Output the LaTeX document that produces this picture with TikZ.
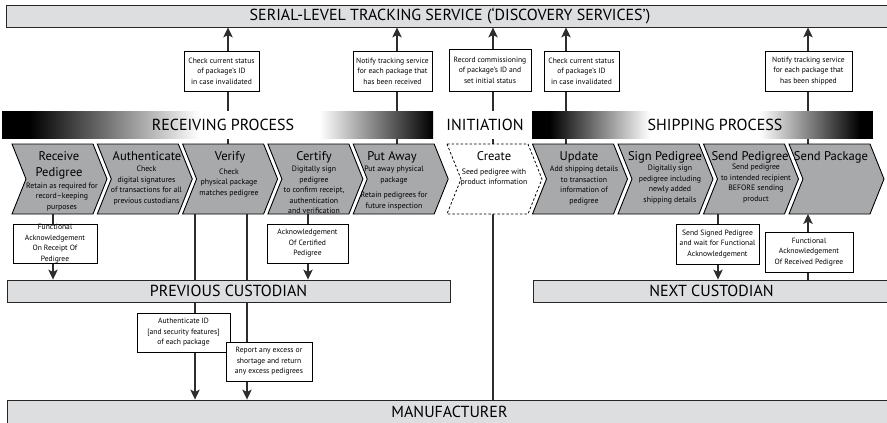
\documentclass[tikz,border=0pt]{standalone}
\usepackage{fontspec}
\setmainfont{PT Sans}
\usetikzlibrary{arrows.meta,backgrounds,calc}
\definecolor{barfill}{RGB}{221,222,224}
\definecolor{chevfill}{RGB}{168,169,171}
\definecolor{linec}{RGB}{45,45,45}
\tikzset{
 bar/.style={draw=black!85, line width=0.9pt, fill=barfill, inner sep=0pt, font=\fontsize{16}{18}\selectfont},
 infobox/.style={draw=black, line width=0.8pt, fill=white, inner sep=0pt, align=center, font=\fontsize{7.6}{10.5}\selectfont},
 conn/.style={draw=linec, line width=1.1pt},
 arr/.style={conn, -{Stealth[length=10pt,width=9.5pt,inset=2.5pt]}},
 chevgray/.style={draw=black, line width=0.9pt, fill=chevfill},
 chevwhite/.style={draw=black, line width=0.8pt, fill=white, dash pattern=on 2.5pt off 2pt},
 ctitle/.style={font=\fontsize{12.6}{15}\selectfont, inner sep=0pt, anchor=base},
 ctext/.style={font=\fontsize{7.8}{10.5}\selectfont, align=center, inner sep=0pt},
 bandtext/.style={font=\fontsize{16}{18}\selectfont, inner sep=0pt},
}
\newcommand\mkchev[3]{%
 \node[minimum width=81pt,minimum height=70pt,inner sep=0pt,outer sep=0pt,anchor=north west] (#1) at (#2,144) {};
 \path[#3] (#1.north west) -- (#1.north east) -- ([xshift=14pt]#1.east) -- (#1.south east) -- (#1.south west) -- ([xshift=14pt]#1.west) -- cycle;
}
\begin{document}
\begin{tikzpicture}[x=1pt,y=-1pt]
\useasboundingbox (0,0) rectangle (887,423);
% ---------- bars
\node[bar, minimum width=887pt, minimum height=22pt] (sls) at (450,16) {SERIAL-LEVEL TRACKING SERVICE (‘DISCOVERY SERVICES’)};
\node[bar, minimum width=443pt, minimum height=22pt] (prev) at (228.5,291) {PREVIOUS CUSTODIAN};
\node[bar, minimum width=357pt, minimum height=22pt] (next) at (711.5,291) {NEXT CUSTODIAN};
\node[bar, minimum width=885pt, minimum height=24pt] (manuf) at (449.5,412) {MANUFACTURER};
% ---------- process bands
\fill[black] (2,111) rectangle (30,138.5);
\shade[left color=black,right color=white] (29.5,111) rectangle (200,138.5);
\fill[white] (199.5,111) rectangle (320,138.5);
\shade[left color=white,right color=black] (319.5,111) rectangle (433,138.5);
\node[bandtext] (recband) at (223,125) {RECEIVING PROCESS};
\node[bandtext, fill=white, minimum width=88pt, minimum height=27.5pt] (init) at (485,124.75) {INITIATION};
\fill[black] (532,111) rectangle (550,138.5);
\shade[left color=black,right color=white] (549.5,111) rectangle (650,138.5);
\fill[white] (649.5,111) rectangle (760,138.5);
\shade[left color=white,right color=black] (759.5,111) rectangle (860,138.5);
\fill[black] (859.5,111) rectangle (873,138.5);
\node[bandtext] (shipband) at (715,125) {SHIPPING PROCESS};
% ---------- chevrons
\mkchev{recv}{12}{chevgray}
\mkchev{auth}{97.3}{chevgray}
\mkchev{verify}{182.6}{chevgray}
\mkchev{certify}{267.9}{chevgray}
\mkchev{putaway}{353.2}{chevgray}
\mkchev{create}{447}{chevwhite}
\mkchev{update}{532.5}{chevgray}
\mkchev{signp}{618}{chevgray}
\mkchev{sendp}{703.5}{chevgray}
\mkchev{sendpkg}{789}{chevgray}
% chevron texts
\node[ctitle] (recv-t1) at (59,160) {Receive};
\node[ctitle] (recv-t2) at (59,176) {Pedigree};
\node[ctext] (recv-s) at (62,197) {Retain as required for\\record–keeping\\purposes};
\node[ctitle] (auth-t) at (147,160) {Authenticate};
\node[ctext] (auth-s) at (146.5,185.5) {Check\\digital signatures\\of transactions for all\\previous custodians};
\node[ctitle] (verify-t) at (230,160) {Verify};
\node[ctext] (verify-s) at (229,183) {Check\\physical package\\matches pedigree};
\node[ctitle] (certify-t) at (314,160) {Certify};
\node[ctext] (certify-s) at (314,190) {Digitally sign\\pedigree\\to confirm receipt,\\authentication\\and verification};
\node[ctitle] (putaway-t) at (392,160) {Put Away};
\node[ctext] (putaway-s) at (394,188) {Put away physical\\package\\[5pt]Retain pedigrees for\\future inspection};
\node[ctitle] (create-t) at (494,160) {Create};
\node[ctext] (create-s) at (494,177.5) {Seed pedigree with\\product information};
\node[ctitle] (update-t) at (579,160) {Update};
\node[ctext] (update-s) at (584,185.5) {Add shipping details\\to transaction\\information of\\pedigree};
\node[ctitle] (signp-t) at (665,160) {Sign Pedigree};
\node[ctext] (signp-s) at (670,184.5) {Digitally sign\\pedigree including\\newly added\\shipping details};
\node[ctitle] (sendp-t) at (750,160) {Send Pedigree};
\node[ctext] (sendp-s) at (756,183.5) {Send pedigree\\to intended recipient\\BEFORE sending\\product};
\node[ctitle] (sendpkg-t) at (831,160) {Send Package};
% ---------- info boxes
\node[infobox, minimum width=75pt, minimum height=40pt] (chkA) at (221.5,71) {Check current status\\of package’s ID\\in case invalidated};
\node[infobox, minimum width=79pt, minimum height=40pt] (notR) at (392.5,71) {Notify tracking service\\for each package that\\has been received};
\node[infobox, minimum width=82pt, minimum height=42pt] (rec) at (490,70) {Record commissioning\\of package’s ID and\\set initial status};
\node[infobox, minimum width=75pt, minimum height=40pt] (chkB) at (581.5,71) {Check current status\\of package’s ID\\in case invalidated};
\node[infobox, minimum width=87pt, minimum height=40pt] (notS) at (808.5,71) {Notify tracking service\\for each package that\\has been shipped};
\node[infobox, minimum width=84pt, minimum height=39pt] (fa1) at (55,243.5) {Functional\\Acknowledgement\\On Receipt Of\\Pedigree};
\node[infobox, minimum width=81pt, minimum height=39pt] (ack) at (307.5,243.5) {Acknowledgement\\Of Certified\\Pedigree};
\node[infobox, minimum width=93pt, minimum height=39pt] (authid) at (183.5,332.5) {Authenticate ID\\{[}and security features{]}\\of each package};
\node[infobox, minimum width=86pt, minimum height=39pt] (report) at (269,361.5) {Report any excess or\\shortage and return\\any excess pedigrees};
\node[infobox, minimum width=83pt, minimum height=40pt] (sendsig) at (717.5,244) {Send Signed Pedigree\\and wait for Functional\\Acknowledgement};
\node[infobox, minimum width=88pt, minimum height=40pt] (far) at (809,252) {Functional\\Acknowledgement\\Of Received Pedigree};
% ---------- connector x positions
\coordinate (xA) at (228,0);
\coordinate (xB) at (397,0);
\coordinate (xC) at (493,0);
\coordinate (xD) at (566,0);
\coordinate (xE) at (808,0);
\coordinate (xF) at (53,0);
\coordinate (xG) at (195,0);
\coordinate (xH) at (247,0);
\coordinate (xI) at (308,0);
\coordinate (xJ) at (718,0);
% ---------- connectors
\begin{pgfonlayer}{background}
\draw[conn] (verify.north -| xA) -- (chkA.south -| xA);
\draw[arr] (chkA.north -| xA) -- (sls.south -| xA);
\draw[conn] (putaway.north -| xB) -- (notR.south -| xB);
\draw[arr] (notR.north -| xB) -- (sls.south -| xB);
\draw[conn] (manuf.north -| xC) -- (rec.south -| xC);
\draw[arr] (rec.north -| xC) -- (sls.south -| xC);
\draw[conn] (update.north -| xD) -- (chkB.south -| xD);
\draw[arr] (chkB.north -| xD) -- (sls.south -| xD);
\draw[conn] (sendpkg.north -| xE) -- (notS.south -| xE);
\draw[arr] (notS.north -| xE) -- (sls.south -| xE);
\draw[conn] (next.north -| xE) -- (far.south -| xE);
\draw[arr] (far.north -| xE) -- (sendpkg.south -| xE);
\draw[conn] (recv.south -| xF) -- (fa1.north -| xF);
\draw[arr] (fa1.south -| xF) -- (prev.north -| xF);
\draw[conn] (verify.south -| xG) -- (authid.north -| xG);
\draw[arr] (authid.south -| xG) -- (manuf.north -| xG);
\draw[conn] (verify.south -| xH) -- (report.north -| xH);
\draw[arr] (report.south -| xH) -- (manuf.north -| xH);
\draw[conn] (certify.south -| xI) -- (ack.north -| xI);
\draw[arr] (ack.south -| xI) -- (prev.north -| xI);
\draw[conn] (sendp.south -| xJ) -- (sendsig.north -| xJ);
\draw[arr] (sendsig.south -| xJ) -- (next.north -| xJ);
\end{pgfonlayer}
\end{tikzpicture}
\end{document}
